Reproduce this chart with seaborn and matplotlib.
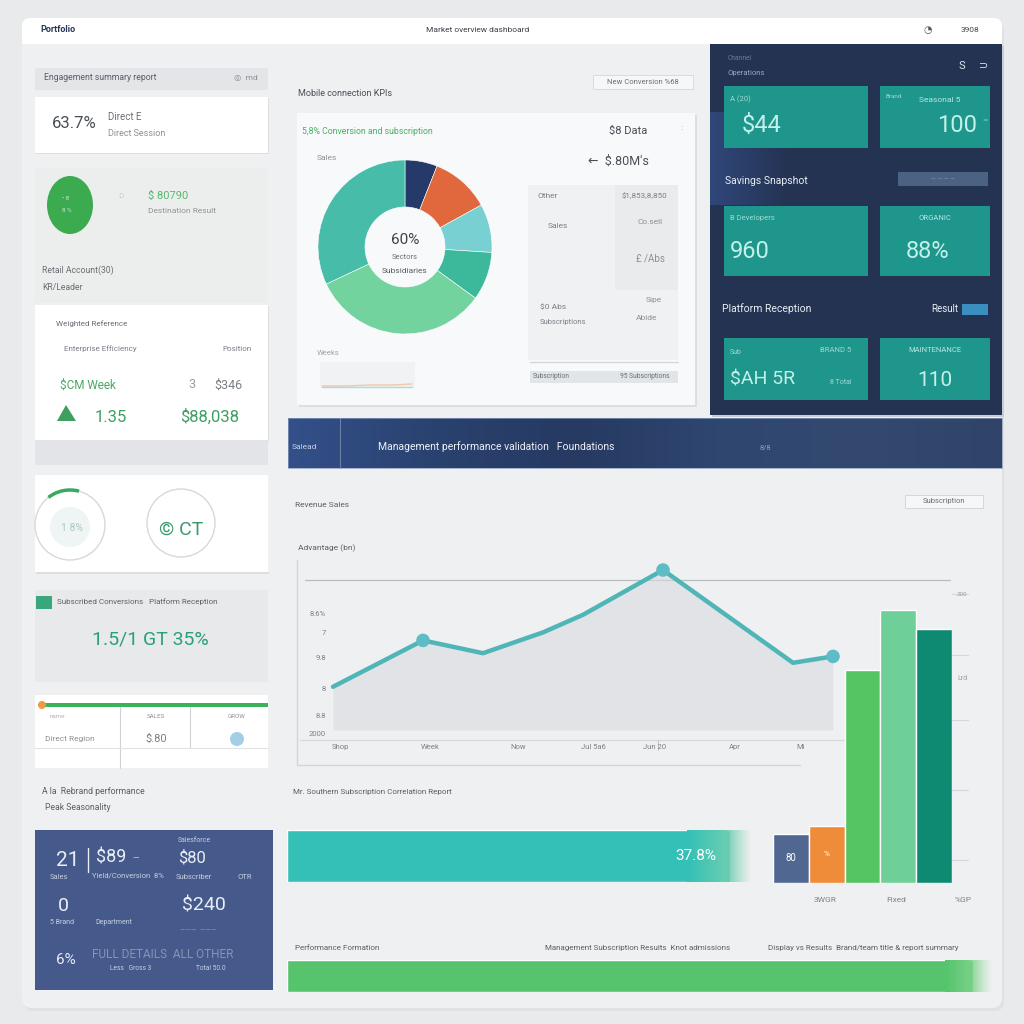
import numpy as np
import pandas as pd
import matplotlib
matplotlib.use("Agg")
import matplotlib.pyplot as plt
from matplotlib.patches import Rectangle, FancyBboxPatch, Circle, Ellipse, Polygon, Arc
import seaborn as sns

sns.set_theme(style="white")
plt.rcParams['font.family'] = ['Roboto', 'DejaVu Sans']

# ---------------- data ----------------
donut_labels = ["Direct", "Referral", "Social", "Email", "Organic", "Paid"]
donut_values = [6, 11, 9, 9, 33, 32]
donut_colors = ["#253a68", "#e0683c", "#79d0d2", "#3cb89b", "#73d39e", "#46bca9"]

trend_week = [0, 9, 15, 21, 25, 33, 46, 50]
trend_value = [27, 56, 48, 61, 72, 100, 42, 46]
trend_marker_idx = [1, 5, 7]
trend_xtick_pos = [0.7, 9.7, 18.5, 26, 32.2, 40.2, 46.8]
trend_xtick_labels = ["Shop", "Week", "Now", "Jul 5a6", "Jun 20", "Apr", "Mi"]
trend_ytick_pos = [73, 61, 45, 26, 9, -2]
trend_ytick_labels = ["8.6%", "7", "9.8", "8", "8.8", "2000"]

bar_categories = ["Direct", "Referral", "Organic", "Social", "Paid"]
bar_values = [18, 21, 78, 100, 93]
bar_colors = ["#4f6791", "#ef8c3a", "#55c463", "#6fcf98", "#0f8a72"]
bar_xlabels = ["3WGR", "Fixed", "%GP"]

progress_labels = ["Conversion", "Performance"]
progress_values = [62, 96]
progress_colors = ["#34c0b6", "#55c46c"]

# ---------------- figure ----------------
W = H = 1024
fig = plt.figure(figsize=(10.24, 10.24), dpi=100)
fig.patch.set_facecolor('#e9eaec')


def px_axes(x0, y0, x1, y1):
    return fig.add_axes([x0 / W, 1 - y1 / H, (x1 - x0) / W, (y1 - y0) / H])


bg = fig.add_axes([0, 0, 1, 1])
bg.axis('off')


def rect(x0, y0, x1, y1, color, z=1, ec='none', lw=0, alpha=1):
    bg.add_patch(Rectangle((x0, y0), x1 - x0, y1 - y0, facecolor=color,
                           edgecolor=ec, lw=lw, zorder=z, alpha=alpha))


def rbox(x0, y0, x1, y1, color, z=1, r=6, ec='none', lw=0):
    bg.add_patch(FancyBboxPatch((x0, y0), x1 - x0, y1 - y0,
                                boxstyle=f"round,pad=0,rounding_size={r}",
                                facecolor=color, edgecolor=ec, lw=lw, zorder=z))


def txt(x, y, s, size=6.5, color='#5b6068', ha='left', weight='normal', z=6, **kw):
    bg.text(x, y, s, fontsize=size, color=color, ha=ha, va='center',
            weight=weight, zorder=z, **kw)


def hgrad(x0, y0, x1, y1, colors, z=1.1):
    """horizontal colour gradient across stops"""
    n = 200
    t = np.linspace(0, 1, n)
    stops = np.linspace(0, 1, len(colors))
    rgb = np.array([matplotlib.colors.to_rgba(c) for c in colors])
    img = np.zeros((1, n, 4))
    for k in range(4):
        img[0, :, k] = np.interp(t, stops, rgb[:, k])
    bg.imshow(img, extent=(x0, x1, y1, y0), aspect='auto', zorder=z, interpolation='bilinear')


# main panel
rbox(24, 21, 1004, 1011, '#dfe1e4', z=0.5, r=10)
rbox(22, 18, 1002, 1008, '#eff0f2', z=0.6, r=10)
rbox(22, 18, 1002, 44, '#ffffff', z=0.7, r=8)
rect(22, 32, 1002, 44, '#ffffff', z=0.7)
txt(40, 30, "Portfolio", 6.5, '#2a3656', weight='bold')
txt(478, 30, "Market overview dashboard", 6, '#3a3f47', ha='center')
txt(924, 30, "\u25d4", 7, '#555')
txt(970, 30, "3908", 6, '#444', ha='center')

# ---------------- left column ----------------
rect(35, 68, 268, 90, '#e4e5e8', z=1)
txt(44, 78, "Engagement summary report", 6.2, '#5a5f66')
txt(234, 78, "\u25ce  md", 6, '#8a8f96')

rect(36, 98, 269, 154, '#dcdee1', z=1)
rect(35, 97, 268, 153, '#ffffff', z=1.1)
txt(52, 124, "63.7%", 12, '#4a4f57')
txt(108, 117, "Direct E", 7, '#6b7077')
txt(108, 134, "Direct Session", 6.5, '#8d9197')

rect(35, 168, 268, 303, '#eceeed', z=1)
bg.add_patch(Ellipse((70, 205), 46, 58, facecolor='#3cab4f', edgecolor='none', zorder=2))
txt(62, 198, "\u2022 8", 4.5, '#cde9cf')
txt(62, 211, "8 %", 4.5, '#cde9cf')
txt(118, 196, "D", 6, '#b6ddb9')
txt(148, 196, "$ 80790", 8, '#58b86a')
txt(148, 211, "Destination Result", 6, '#8f9499')
txt(42, 270, "Retail Account(30)", 6.2, '#6a6f76')
txt(42, 287, "KR/Leader", 6.2, '#6a6f76')

rect(36, 306, 269, 441, '#dcdee1', z=1)
rect(35, 305, 268, 440, '#ffffff', z=1.1)
txt(56, 324, "Weighted Reference", 5.8, '#6a6f76')
txt(64, 349, "Enterprise Efficiency", 5.8, '#7a7f86')
txt(222, 349, "Position", 5.8, '#7a7f86')
txt(60, 385, "$CM Week", 8.5, '#49a866')
txt(188, 385, "3", 9, '#9a9ea4')
txt(214, 385, "$346", 9, '#7a7f86')
bg.add_patch(Polygon([[57, 421], [66, 405], [76, 421]], closed=True,
                     facecolor='#3f9f60', edgecolor='none', zorder=2))
txt(95, 417, "1.35", 12, '#3d9f62')
txt(180, 417, "$88,038", 12, '#3d9f62')

rect(35, 440, 268, 465, '#e3e4e7', z=1)

rect(35, 475, 268, 572, '#ffffff', z=1.1)
rect(36, 572, 269, 574, '#dcdee1', z=1)
bg.add_patch(Circle((70, 525), 35, facecolor='none', edgecolor='#d6d9da', lw=1, zorder=2))
bg.add_patch(Circle((70, 527), 20, facecolor='#eef5f4', edgecolor='none', zorder=1.5))
bg.add_patch(Arc((70, 525), 70, 70, theta1=232, theta2=285, color='#3aa860', lw=2.5, zorder=3))
txt(72, 528, "1 8%", 7.5, '#a9c7c3', ha='center')
bg.add_patch(Circle((181, 523), 34, facecolor='none', edgecolor='#d6d9da', lw=1, zorder=2))
txt(181, 530, "\u00a9 CT", 14, '#3b9a6c', ha='center')

rect(35, 590, 268, 682, '#e8e9eb', z=1)
rect(36, 596, 52, 609, '#3aa67c', z=2)
txt(57, 602, "Subscribed Conversions   Platform Reception", 5.8, '#5d6269')
txt(150, 640, "1.5/1 GT 35%", 14, '#2b9f78', ha='center')

rect(35, 695, 268, 768, '#ffffff', z=1.1)
rect(45, 703, 268, 707, '#3cb258', z=2)
bg.add_patch(Circle((42, 705), 4, facecolor='#ee9a45', edgecolor='none', zorder=2.5))
bg.plot([120, 120], [707, 768], color='#d0d3d6', lw=0.8, zorder=2)
bg.plot([190, 190], [707, 748], color='#d0d3d6', lw=0.8, zorder=2)
bg.plot([35, 268], [748, 748], color='#e1e3e5', lw=0.8, zorder=2)
txt(50, 717, "name", 4.5, '#b0b4b8')
txt(156, 717, "SALES", 4.5, '#8d9197', ha='center')
txt(236, 717, "GROW", 4.5, '#8d9197', ha='center')
txt(45, 739, "Direct Region", 6, '#8d9197')
txt(156, 739, "$.80", 8, '#7b8087', ha='center')
bg.add_patch(Circle((237, 739), 7, facecolor='#8cc3e0', edgecolor='none', zorder=2, alpha=0.8))

txt(42, 792, "A la  Rebrand performance", 6.2, '#5a5f66')
txt(45, 808, "Peak Seasonality", 6.2, '#5a5f66')

rect(35, 830, 273, 990, '#455a8b', z=1)
wc = '#e8edf6'
txt(56, 860, "21", 15, wc)
bg.plot([88, 88], [848, 872], color=wc, lw=1, zorder=3)
txt(96, 857, "$89", 13, wc)
txt(132, 858, "\u2014", 6, wc)
txt(50, 877, "Sales", 5.5, '#c5cee0')
txt(92, 876, "Yield/Conversion  8%", 5.5, '#c5cee0')
txt(178, 840, "Salesforce", 5, '#c5cee0')
txt(178, 858, "$80", 12, wc)
txt(176, 877, "Subscriber", 5.5, '#c5cee0')
txt(238, 877, "OTR", 5.5, '#c5cee0')
txt(58, 906, "0", 14, wc)
txt(50, 922, "5 Brand", 5, '#c5cee0')
txt(95, 922, "Department", 5, '#c5cee0')
txt(182, 906, "$240", 14, wc)
txt(180, 930, "\u2014\u2014\u2014  \u2014\u2014\u2014", 5, '#8d9bbb')
txt(56, 960, "6%", 11, wc)
txt(92, 955, "FULL DETAILS  ALL OTHER", 8.5, '#8595b5')
txt(110, 968, "Less   Gross 3", 4.8, '#c5cee0')
txt(196, 968, "Total 50.0", 4.8, '#c5cee0')

# ---------------- middle top: donut card ----------------
txt(298, 94, "Mobile connection KPIs", 6.5, '#4a4f57')
rect(593, 75, 693, 89, '#f6f7f8', z=1, ec='#d5d8db', lw=0.6)
txt(643, 82, "New Conversion %68", 5.5, '#6a6f76', ha='center')
rect(299, 115, 697, 407, '#dcdee1', z=1)
rect(297, 113, 695, 405, '#f8f9fa', z=1.1)
txt(302, 131, "5,8% Conversion and subscription", 6.3, '#4caf66')
txt(317, 158, "Sales", 6, '#8d9197')
txt(609, 131, "$8 Data", 8, '#4a4f57')
txt(680, 128, ":", 6, '#aaa')
txt(588, 161, "\u2190  $.80M's", 9, '#4a4f57')
rect(528, 185, 678, 360, '#f0f1f3', z=1.2)
rect(615, 185, 678, 290, '#e9ebed', z=1.25)
txt(538, 196, "Other", 6, '#7a7f86')
txt(622, 196, "$1,853,8,850", 5.8, '#7a7f86')
txt(548, 226, "Sales", 6, '#7a7f86')
txt(638, 222, "Co.sell", 6, '#8d9197')
txt(636, 258, "\u00a3 /Abs", 7, '#8d9197')
txt(540, 307, "$0 Abs", 6, '#7a7f86')
txt(540, 322, "Subscriptions", 5.5, '#7a7f86')
txt(646, 300, "Sipe", 6, '#8d9197')
txt(636, 318, "Abide", 6, '#8d9197')
bg.plot([530, 678], [362, 362], color='#d4d7da', lw=1, zorder=2)
rect(530, 371, 678, 383, '#e2e5e8', z=1.3)
txt(533, 377, "Subscription", 4.8, '#6a6f76')
txt(620, 377, "95 Subscriptions", 4.8, '#6a6f76')
txt(317, 353, "Weeks", 5.5, '#a0a4aa')
rect(320, 362, 415, 388, '#f1f2f3', z=1.2)
bg.plot([322, 345, 370, 392, 412], [386, 386, 385, 385, 384], color='#f3c7a8', lw=1, zorder=2)
bg.plot([322, 345, 370, 392, 412], [387, 387, 387, 387, 387], color='#a9dbe0', lw=1, zorder=2)

ax_pie = px_axes(318, 160, 492, 334)
ax_pie.pie(donut_values, colors=donut_colors, startangle=90, counterclock=False,
           wedgeprops=dict(width=0.54, edgecolor='white', linewidth=0.4))
ax_pie.set_xlim(-1.0, 1.0)
ax_pie.set_ylim(-1.0, 1.0)
ax_pie.set_aspect('equal')
ax_pie.axis('off')
ax_pie.text(0, 0.08, "60%", fontsize=11, ha='center', va='center', color='#3d424a')
ax_pie.text(0, -0.12, "Sectors", fontsize=5.5, ha='center', va='center', color='#6a6f76')
ax_pie.text(0, -0.28, "Subsidiaries", fontsize=6, ha='center', va='center', color='#5a5f66')

# ---------------- right dark panel ----------------
rect(712, 46, 1004, 417, '#c9ccd2', z=1)
rect(710, 44, 1002, 415, '#253352', z=1.1)
hgrad(710, 112, 790, 205, ['#30477a', '#2a3d66', '#253352'], z=1.15)
txt(728, 58, "Channel", 4.8, '#6c7a96')
txt(728, 73, "Operations", 5.5, '#9aa8c0')
txt(962, 66, "S", 8, '#dfe6f0', ha='center')
txt(984, 66, "\u2283", 8, '#dfe6f0', ha='center')
tc = '#1f968b'
lt = '#c3f0ea'
rect(724, 86, 868, 148, tc, z=2)
rect(880, 86, 990, 148, tc, z=2)
rect(724, 206, 868, 276, tc, z=2)
rect(880, 206, 990, 276, tc, z=2)
rect(724, 338, 868, 400, tc, z=2)
rect(880, 338, 990, 400, tc, z=2)
txt(730, 99, "A (20)", 5.5, '#9fd9d3')
txt(742, 126, "$44", 17, lt)
txt(886, 96, "Brand", 4.5, '#9fd9d3')
txt(940, 100, "Seasonal 5", 6, '#b6e8e2', ha='center')
txt(957, 126, "100", 17, lt, ha='center')
txt(982, 122, "\u00b0\u00b0", 6, '#9fd9d3')
txt(725, 181, "Savings Snapshot", 7.5, '#e9eef6')
rect(898, 172, 988, 186, '#4c6283', z=2)
txt(943, 179, "\u2014 \u2014 \u2014 \u2014", 4.5, '#8ea0bb', ha='center')
txt(730, 218, "B Developers", 5.5, '#9fd9d3')
txt(730, 251, "960", 17, lt)
txt(935, 218, "ORGANIC", 5.5, '#b6e8e2', ha='center')
txt(928, 252, "88%", 17, lt, ha='center')
txt(722, 309, "Platform Reception", 7.5, '#e9eef6')
txt(958, 309, "Result", 7, '#e9eef6', ha='right')
rect(962, 304, 988, 315, '#3b8fc0', z=2)
txt(730, 352, "Sub", 5, '#9fd9d3')
txt(730, 380, "$AH 5R", 14, lt)
txt(820, 350, "BRAND 5", 5.5, '#9fd9d3')
txt(830, 382, "8 Total", 5, '#9fd9d3')
txt(935, 350, "MAINTENANCE", 5.5, '#b6e8e2', ha='center')
txt(935, 380, "110", 15, lt, ha='center')

# ---------------- banner ----------------
hgrad(288, 418, 1002, 468, ['#33508a', '#2a426f', '#263a62', '#2f4670', '#33496f', '#2f4468'], z=1)
bg.plot([340, 340], [418, 468], color='#6c80a8', lw=0.8, zorder=2)
rect(288, 418, 1002, 468, 'none', z=2, ec='#8a9abb', lw=0.5)
txt(292, 447, "Salead", 6, '#c7d0e2')
txt(378, 447, "Management performance validation   Foundations", 7.5, '#eef2f8')
txt(760, 447, "8/8", 5.5, '#8f9dbb')

# ---------------- lower charts ----------------
txt(295, 505, "Revenue Sales", 6, '#5a5f66')
rect(905, 495, 983, 508, '#f6f7f8', z=1, ec='#cfd3d6', lw=0.6)
txt(944, 501, "Subscription", 5.5, '#6a6f76', ha='center')
txt(298, 548, "Advantage (bn)", 6, '#5a5f66')
bg.plot([297, 297], [560, 765], color='#d3d6d9', lw=1, zorder=1)
bg.plot([297, 800], [765, 765], color='#d3d6d9', lw=1, zorder=1)
bg.plot([305, 950], [580, 580], color='#b9bdc1', lw=0.9, zorder=1)
bg.plot([300, 850], [740, 740], color='#d6d9dc', lw=0.9, zorder=1)
bg.plot([658, 658], [740, 750], color='#c4c8cc', lw=0.8, zorder=1)
for gy in [594, 655, 720, 790, 860]:
    bg.plot([952, 968], [gy, gy], color='#d4d7da', lw=0.8, zorder=1)
txt(962, 594, "200", 4.5, '#9a9ea4', ha='center')
txt(962, 678, "Lrd", 5, '#9a9ea4', ha='center')

bg.set_xlim(0, W)
bg.set_ylim(H, 0)

ax_line = px_axes(330, 560, 950, 740)
ax_line.set_facecolor('none')
df_trend = pd.DataFrame({'week': trend_week, 'value': trend_value})
ax_line.fill_between(df_trend['week'], df_trend['value'], 0, color='#d8dbde', alpha=0.6, lw=0)
sns.lineplot(data=df_trend, x='week', y='value', ax=ax_line, color='#4fb5b6', lw=3.2)
mk = df_trend.iloc[trend_marker_idx]
ax_line.scatter(mk['week'], mk['value'], s=95, color='#5ebcc6', zorder=5, edgecolor='none')
ax_line.set_xlim(-0.3, 61.7)
ax_line.set_ylim(-6.25, 106.25)
for s in ax_line.spines.values():
    s.set_visible(False)
ax_line.set_xticks(trend_xtick_pos)
ax_line.set_xticklabels(trend_xtick_labels)
ax_line.set_yticks(trend_ytick_pos)
ax_line.set_yticklabels(trend_ytick_labels)
ax_line.tick_params(length=0, labelsize=5.5, colors='#7d8188', pad=3)
ax_line.set_xlabel('')
ax_line.set_ylabel('')

ax_bar = px_axes(773, 590, 952, 883)
ax_bar.set_facecolor('none')
df_bar = pd.DataFrame({'cat': bar_categories, 'val': bar_values})
sns.barplot(data=df_bar, x='cat', y='val', hue='cat', palette=bar_colors, legend=False,
            width=1.0, saturation=1, ax=ax_bar)
ax_bar.set_xlim(-0.5, 4.5)
ax_bar.set_ylim(0, 107.3)
ax_bar.axis('off')
ax_bar.text(0, bar_values[0] / 2, "80", color='white', fontsize=7, ha='center', va='center')
ax_bar.text(1, bar_values[1] / 2, "%", color='white', fontsize=6, ha='center', va='center')

txt(825, 900, bar_xlabels[0], 6, '#7d8188', ha='center')
txt(896, 900, bar_xlabels[1], 6, '#7d8188', ha='center')
txt(963, 900, bar_xlabels[2], 6, '#7d8188', ha='center')
txt(293, 792, "Mr. Southern Subscription Correlation Report", 5.8, '#5a5f66')
txt(295, 948, "Performance Formation", 5.8, '#5a5f66')
txt(545, 948, "Management Subscription Results  Knot admissions", 5.8, '#5a5f66')
txt(768, 948, "Display vs Results  Brand/team title & report summary", 5.8, '#5a5f66')

t = np.linspace(0, 1, 60)

ax_p1 = px_axes(287, 830, 1002, 882)
ax_p1.set_facecolor('none')
sns.barplot(x=[progress_values[0]], y=[progress_labels[0]], orient='h', color=progress_colors[0],
            width=1.0, saturation=1, ax=ax_p1)
g1 = np.zeros((1, 60, 4))
c0 = np.array([52, 192, 182]) / 255
c1 = np.array([140, 214, 176]) / 255
g1[0, :, :3] = c0 * (1 - t[:, None]) + c1 * t[:, None]
g1[0, :, 3] = np.clip(1.0 - np.clip((t - 0.6) / 0.4, 0, 1), 0, 1)
ax_p1.imshow(g1, extent=(56, 65, 0.5, -0.5), aspect='auto', zorder=3, interpolation='bilinear')
ax_p1.set_xlim(0, 100)
ax_p1.set_ylim(0.5, -0.5)
ax_p1.axis('off')
ax_p1.text(60, 0, "37.8%", color='white', fontsize=11, ha='right', va='center', zorder=4)

ax_p2 = px_axes(287, 960, 1002, 992)
ax_p2.set_facecolor('none')
sns.barplot(x=[progress_values[1]], y=[progress_labels[1]], orient='h', color=progress_colors[1],
            width=1.0, saturation=1, ax=ax_p2)
g2 = np.zeros((1, 60, 4))
d0 = np.array([85, 196, 108]) / 255
d1 = np.array([150, 220, 160]) / 255
g2[0, :, :3] = d0 * (1 - t[:, None]) + d1 * t[:, None]
g2[0, :, 3] = np.clip(1.0 - np.clip((t - 0.5) / 0.5, 0, 1), 0, 1)
ax_p2.imshow(g2, extent=(92, 98.5, 0.5, -0.5), aspect='auto', zorder=3, interpolation='bilinear')
ax_p2.set_xlim(0, 100)
ax_p2.set_ylim(0.5, -0.5)
ax_p2.axis('off')

fig.savefig("out.png", dpi=100, facecolor=fig.get_facecolor())
